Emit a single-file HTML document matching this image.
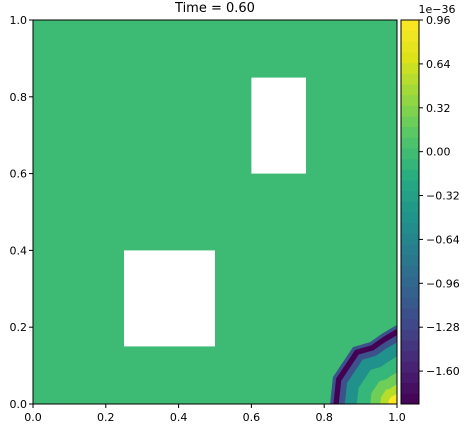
<!DOCTYPE html>
<html><head><meta charset="utf-8"><style>
body{margin:0;background:#fff;}
svg{display:block;font-family:"DejaVu Sans","Liberation Sans",sans-serif;}
</style></head><body>
<svg id="chart" width="471" height="429" viewBox="0 0 471 429" xmlns="http://www.w3.org/2000/svg">
<text x="215" y="12" font-size="13" text-anchor="middle">Time = 0.60</text>
<rect x="33" y="20" width="364" height="384" fill="#3dbb74"/>
<g id="blob"></g>
<g id="holes"></g>
<rect x="33" y="20" width="364" height="384" fill="none" stroke="#000" stroke-width="1"/>
<g id="xaxis"></g>
<g id="yaxis"></g>
<g id="cbar"></g>
<text x="437" y="13" font-size="11" text-anchor="middle">1e−36</text>
</svg>
<script>
const xTicks=[0.0,0.2,0.4,0.6,0.8,1.0];
const yTicks=[0.0,0.2,0.4,0.6,0.8,1.0];
const cbTicks=[0.96,0.64,0.32,0.00,-0.32,-0.64,-0.96,-1.28,-1.60];
const cbMin=-1.84, cbMax=0.96;
const holesX0=[0.25,0.60], holesX1=[0.50,0.75], holesY0=[0.15,0.60], holesY1=[0.40,0.85];
const frontX=[0.816,0.824,0.879,0.926,0.962,1.0];
const frontY=[0.0,0.07,0.148,0.161,0.185,0.206];
const layerScale=[1.0,0.95,0.87,0.78,0.6,0.4,0.25,0.13];
const layerColor=["#3b528b","#440154","#3b528b","#21918c","#35b779","#6ece58","#b5de2b","#fde725"];
const NS="http://www.w3.org/2000/svg";
const X=v=>33+v*364, Y=v=>404-v*384;
function mk(t,a,p){const e=document.createElementNS(NS,t);for(const k in a)e.setAttribute(k,a[k]);p.appendChild(e);return e;}
const blob=document.getElementById('blob');
layerScale.forEach((s,i)=>{
  let pts=frontX.map((fx,j)=>[1+s*(fx-1),s*frontY[j]]);
  pts.push([1,0]);
  const e=mk('polygon',{points:pts.map(p=>X(p[0])+','+Y(p[1])).join(' '),fill:layerColor[i]},blob);
  
  
});
const holes=document.getElementById('holes');
holesX0.forEach((x0,i)=>{
  const e=mk('rect',{x:X(x0),y:Y(holesY1[i]),width:X(holesX1[i])-X(x0),height:Y(holesY0[i])-Y(holesY1[i]),fill:'#fff'},holes);
  
  
});
const xa=document.getElementById('xaxis');
xTicks.forEach(v=>{
  mk('line',{x1:X(v),x2:X(v),y1:404,y2:408,stroke:'#000'},xa);
  const t=mk('text',{x:X(v),y:421,'font-size':11,'text-anchor':'middle'},xa);t.textContent=v.toFixed(1);
  
  
});
const ya=document.getElementById('yaxis');
yTicks.forEach(v=>{
  mk('line',{x1:29,x2:33,y1:Y(v),y2:Y(v),stroke:'#000'},ya);
  const t=mk('text',{x:27,y:Y(v)+4,'font-size':11,'text-anchor':'end'},ya);t.textContent=v.toFixed(1);
  
  
});
const viridis=["#440154","#482374","#404688","#33638d","#287d8e","#1f968b","#29af7f","#55c667","#95d840","#dce319","#fde725"];
function cmap(f){f=Math.max(0,Math.min(1,f));const p=f*(viridis.length-1),i=Math.min(viridis.length-2,Math.floor(p)),r=p-i;
  const a=viridis[i],b=viridis[i+1];const c=k=>Math.round(parseInt(a.substr(k,2),16)*(1-r)+parseInt(b.substr(k,2),16)*r);
  return `rgb(${c(1)},${c(3)},${c(5)})`;}
const cb=document.getElementById('cbar');
const CY=v=>20+(cbMax-v)/(cbMax-cbMin)*384;
const nb=36;
for(let i=0;i<nb;i++){
  const v0=cbMin+(cbMax-cbMin)*i/nb, v1=cbMin+(cbMax-cbMin)*(i+1)/nb;
  const e=mk('rect',{x:401,y:CY(v1),width:18,height:CY(v0)-CY(v1)+0.5,fill:cmap((i+0.5)/nb)},cb);
  
  
}
mk('rect',{x:401,y:20,width:18,height:384,fill:'none',stroke:'#000'},cb);
cbTicks.forEach(v=>{
  mk('line',{x1:419,x2:423,y1:CY(v),y2:CY(v),stroke:'#000'},cb);
  const t=mk('text',{x:426,y:CY(v)+4,'font-size':11},cb);t.textContent=(v<0?'−':'')+Math.abs(v).toFixed(2);
  
  
});
</script>
</body></html>
